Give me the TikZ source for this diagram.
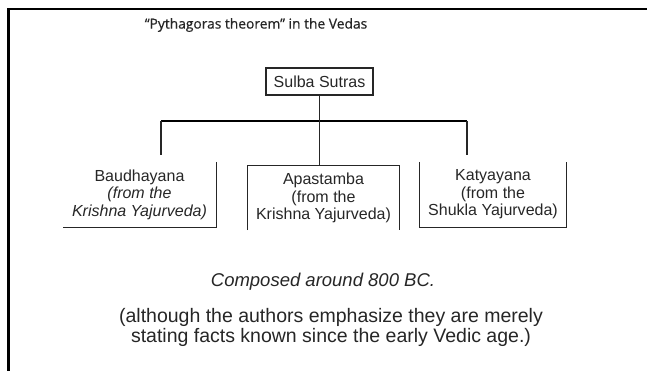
\documentclass[tikz,border=0pt]{standalone}
\usepackage{fontspec}
\setmainfont{Liberation Sans}
\newfontfamily\titlefont[FakeBold=0.6]{Open Sans}
\usepackage{tikz}
\usetikzlibrary{arrows, arrows.meta}

\begin{document}
\begin{tikzpicture}[x=1pt, y=-1pt,
	boxtext/.style={align=center, inner sep=0pt, minimum height=65pt, text=black!85, font=\fontsize{16}{17.5}\selectfont},
	boxline/.style={draw=black!85, line width=1.1pt},
	barline/.style={draw=black, line width=2pt}]
				\useasboundingbox (0,0) rectangle (647,370);
				\clip (0,0) rectangle (647,370);
				\draw[line width=2.5pt] (8.5,380) -- (8.5,9.2) -- (660,9.2);%frame
				\node[font=\titlefont\fontsize{13.8}{16}\selectfont, text=black!85] (title) at (256,25){“Pythagoras theorem” in the Vedas};%
				\node[boxline, minimum width=107pt, minimum height=27pt, inner sep=0pt, text=black!85, font=\fontsize{16}{17.5}\selectfont] (sulba) at (319.5,81.5){Sulba Sutras};%
				\node[boxtext, minimum width=153pt] (baud) at (139.5,194.5){Baudhayana\\\textit{(from the}\\\textit{Krishna Yajurveda)}};%
				\node[boxtext, minimum width=151pt, minimum height=64pt] (apast) at (323.5,198){Apastamba\\(from the\\Krishna Yajurveda)};%
				\node[boxtext, minimum width=146pt] (katy) at (493,194.5){Katyayana\\(from the\\Shukla Yajurveda)};%
				\coordinate (barL) at (161,121);
				\coordinate (barR) at (467,121);
				\coordinate (dropL) at (161,155);
				\coordinate (dropR) at (467,155);
				\draw[barline] (barL) -- (barR);
				\draw[boxline] (barL) -- (dropL);
				\draw[boxline] (barR) -- (dropR);
				\draw[boxline] (sulba.south) -- (sulba.south |- apast.north);
				\draw[boxline] (baud.north east) -- (baud.south east) -- (baud.south west);
				\draw[boxline] (apast.south west) -- (apast.north west) -- (apast.north east) -- (apast.south east);
				\draw[boxline] (katy.north west) -- (katy.south west) -- (katy.south east) -- (katy.north east);
				\node[font=\itshape\fontsize{18.5}{20}\selectfont, text=black!85] (composed) at (323,282){Composed around 800 BC.};%
				\node[align=center, font=\fontsize{19.5}{19.5}\selectfont, text=black!85] (note) at (331,327.5){(although the authors emphasize they are merely\\stating facts known since the early Vedic age.)};%
			\end{tikzpicture}
\end{document}
